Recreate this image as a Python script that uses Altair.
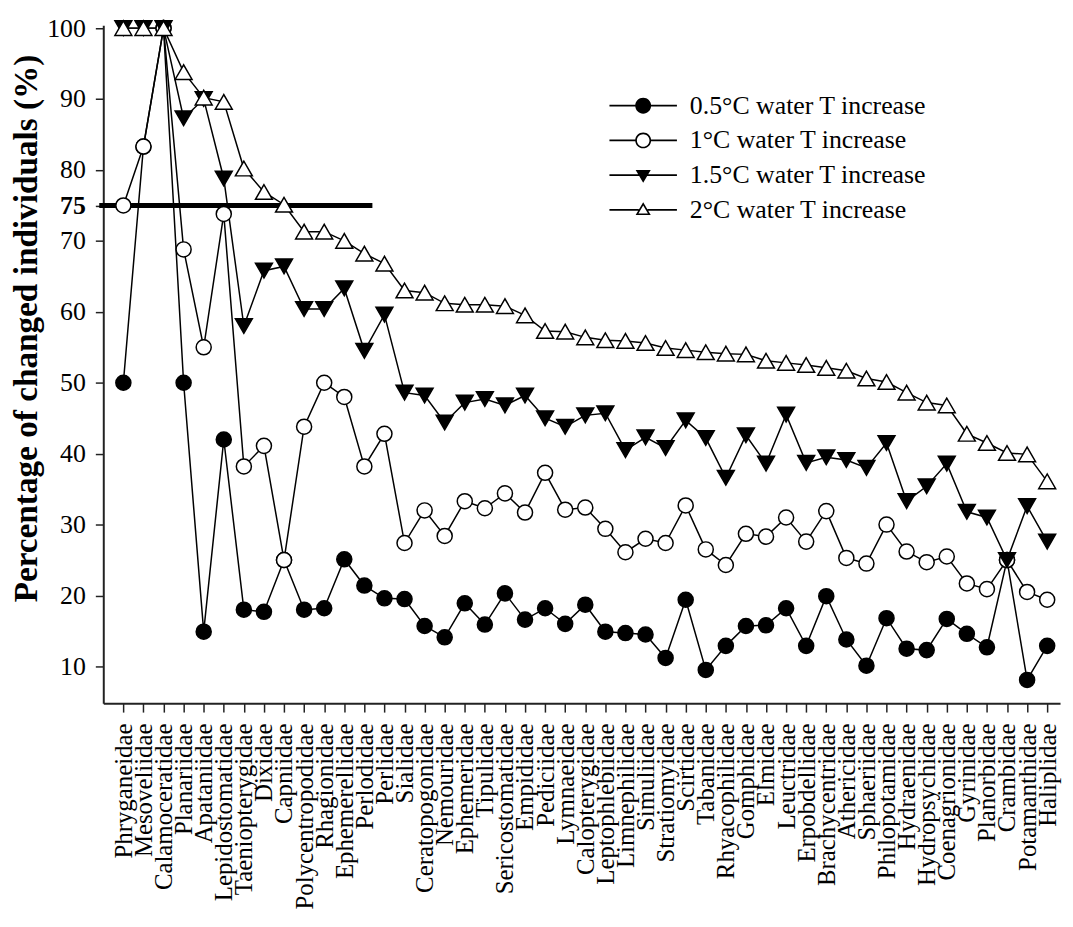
import altair as alt
import pandas as pd

families = [
    "Phryganeidae", "Mesoveliidae", "Calamoceratidae", "Planariidae", "Apataniidae",
    "Lepidostomatidae", "Taeniopterygidae", "Dixidae", "Capniidae", "Polycentropodidae",
    "Rhagionidae", "Ephemerellidae", "Perlodidae", "Perlidae", "Sialidae",
    "Ceratopogonidae", "Nemouridae", "Ephemeridae", "Tipulidae", "Sericostomatidae",
    "Empididae", "Pediciidae", "Lymnaeidae", "Calopterygidae", "Leptophlebiidae",
    "Limnephilidae", "Simuliidae", "Stratiomyidae", "Scirtidae", "Tabanidae",
    "Rhyacophilidae", "Gomphidae", "Elmidae", "Leuctridae", "Erpobdellidae",
    "Brachycentridae", "Athericidae", "Sphaeriidae", "Philopotamidae", "Hydraenidae",
    "Hydropsychidae", "Coenagrionidae", "Gyrinidae", "Planorbidae", "Crambidae",
    "Potamanthidae", "Haliplidae",
]

s05 = [50, 83.3, 100, 50, 14.9, 42.0, 18.0, 17.7, 25, 18.0,
       18.2, 25.1, 21.4, 19.6, 19.5, 15.7, 14.1, 18.9, 15.9, 20.3,
       16.6, 18.2, 16.0, 18.7, 14.9, 14.7, 14.5, 11.2, 19.4, 9.5,
       12.9, 15.7, 15.8, 18.2, 12.9, 19.9, 13.8, 10.1, 16.8, 12.5,
       12.3, 16.7, 14.6, 12.7, 25, 8.1, 12.9]

s1 = [75, 83.3, 100, 68.8, 55, 73.8, 38.2, 41.1, 25, 43.8,
      50, 48, 38.2, 42.8, 27.4, 32.0, 28.4, 33.3, 32.3, 34.4,
      31.7, 37.3, 32.1, 32.4, 29.4, 26.1, 28.0, 27.4, 32.7, 26.5,
      24.3, 28.7, 28.3, 31.0, 27.6, 31.9, 25.3, 24.5, 30.0, 26.2,
      24.7, 25.5, 21.7, 20.9, 25, 20.5, 19.4]

s15 = [100, 100, 100, 87.3, 90, 78.8, 58, 65.8, 66.4, 60.4,
       60.4, 63.3, 54.5, 59.6, 48.6, 48.2, 44.4, 47.2, 47.7, 46.8,
       48.2, 45.0, 43.8, 45.4, 45.7, 40.5, 42.3, 40.8, 44.7, 42.2,
       36.6, 42.6, 38.6, 45.5, 38.7, 39.5, 39.1, 38.0, 41.5, 33.3,
       35.4, 38.6, 31.8, 31.0, 25, 32.6, 27.6]

s2 = [100, 100, 100, 93.8, 90.2, 89.6, 80.2, 76.9, 75.1, 71.3,
      71.3, 70.0, 68.2, 66.8, 63.0, 62.7, 61.2, 61.0, 61.0, 60.8,
      59.5, 57.3, 57.2, 56.4, 56.0, 55.9, 55.6, 54.9, 54.6, 54.3,
      54.1, 54.0, 53.1, 52.8, 52.5, 52.1, 51.7, 50.6, 50.1, 48.6,
      47.2, 46.8, 42.8, 41.5, 40.1, 39.9, 36.1]

series_names = [
    "0.5°C water T increase",
    "1°C water T increase",
    "1.5°C water T increase",
    "2°C water T increase",
]
series_shapes = ["circle", "circle", "triangle-down", "triangle-up"]
series_fills = ["black", "white", "black", "white"]
series_sizes = [230, 230, 290, 290]

threshold_value = [75]
threshold_from = [-0.2]
threshold_to = [13.4]

y_ticks = [10, 20, 30, 40, 50, 60, 70, 75, 80, 90, 100]

rows = []
for si, (name, vals) in enumerate(zip(series_names, [s05, s1, s15, s2])):
    for i, (fam, v) in enumerate(zip(families, vals)):
        rows.append({"idx": i + 1, "family": fam, "series": name, "sorder": si, "value": v})
df = pd.DataFrame(rows)

thr_df = pd.DataFrame({"idx": threshold_from, "idx2": threshold_to, "value": threshold_value})

FONT = "Liberation Serif"

x_scale = alt.Scale(domain=[0, 47.64], nice=False, zero=False)
y_scale = alt.Scale(domain=[4.82, 100.4], nice=False, zero=False)

label_expr = "[" + ",".join("'" + f + "'" for f in families) + "][datum.value - 1]"

x_axis = alt.Axis(
    values=list(range(1, len(families) + 1)), labelExpr=label_expr, labelAngle=-90,
    labelFont=FONT, labelFontSize=25, labelColor="black", labelPadding=11,
    labelOverlap=False, labelFlush=False, labelBound=False, labelSeparation=0,
    labelLimit=0,
    tickSize=9, tickColor="#222", tickWidth=1.5,
    domainColor="#222", domainWidth=2, grid=False, title=None,
)

y_axis = alt.Axis(
    values=y_ticks, labelFont=FONT, labelFontSize=26, labelColor="black",
    labelFontWeight={"condition": {"test": "datum.value == 75", "value": "bold"}, "value": "normal"},
    labelPadding=10, labelOverlap=False, labelFlush=False,
    tickSize=8, tickColor="#222", tickWidth=1.5,
    domainColor="#222", domainWidth=2, grid=False,
    title="Percentage of changed individuals (%)", titleFont=FONT, titleFontSize=33.5,
    titleFontWeight="bold", titleColor="black", titleAngle=270, titleLimit=0,
    titleX=-77, titleY=305, titleAlign="center", titleBaseline="middle",
)

X = alt.X("idx:Q", scale=x_scale, axis=x_axis)
Y = alt.Y("value:Q", scale=y_scale, axis=y_axis)

base = alt.Chart(df)

lines = base.mark_line(color="black", strokeWidth=1.5).encode(
    x=X, y=Y, detail="series:N", order="idx:Q"
)

thr = alt.Chart(thr_df).mark_rule(color="black", strokeWidth=5).encode(
    x=X, x2="idx2:Q", y=Y,
)

point_layers = []
for si in range(len(series_names)):
    point_layers.append(
        base.transform_filter(f"datum.sorder == {si}").mark_point(
            shape=series_shapes[si], filled=True, fill=series_fills[si],
            stroke="black", strokeWidth=1.5, size=series_sizes[si], opacity=1,
        ).encode(x=X, y=Y)
    )

# legend symbols drawn as filled outlines: marker with a line segment each side
seg_l = "M-4.25,-0.11H{e}V0.11H-4.25Z"
seg_r = "M{e},-0.11H4.25V0.11H{e}Z"
full_circle = ("M-1,0A1,1 0 1,1 1,0A1,1 0 1,1 -1,0Z"
               + seg_l.format(e=-0.9) + seg_r.format(e=0.9))
ring_circle = ("M-1,0A1,1 0 1,1 1,0A1,1 0 1,1 -1,0Z"
               "M-0.79,0A0.79,0.79 0 1,0 0.79,0A0.79,0.79 0 1,0 -0.79,0Z"
               + seg_l.format(e=-0.98) + seg_r.format(e=0.98))
tri_down = ("M-0.95,-0.65L0.95,-0.65L0,0.95Z"
            + seg_l.format(e=-0.4) + seg_r.format(e=0.4))
tri_up = ("M0,-0.95L0.95,0.65L-0.95,0.65Z"
          "M0,-0.56L-0.6,0.45L0.6,0.45Z"
          + seg_l.format(e=-0.56) + seg_r.format(e=0.56))

legend_layer = base.transform_filter("false").mark_point(
    filled=True, fill="black", strokeWidth=0, opacity=1
).encode(
    x=X, y=Y,
    shape=alt.Shape(
        "series:N",
        scale=alt.Scale(domain=series_names, range=[full_circle, ring_circle, tri_down, tri_up]),
        legend=alt.Legend(
            title=None, orient="none", legendX=531, legendY=68,
            labelFont=FONT, labelFontSize=26, labelColor="black", labelLimit=0,
            labelOffset=34, rowPadding=9, symbolSize=256,
            symbolFillColor="black", symbolStrokeWidth=0, symbolOpacity=1,
            padding=0,
        ),
    ),
)

chart = alt.layer(lines, thr, *point_layers, legend_layer).properties(
    width=964, height=683,
    autosize=alt.AutoSizeParams(type="none"),
    padding={"left": 96, "top": 14, "right": 5, "bottom": 208},
).configure(background="white").configure_view(stroke=None).configure_axis(labelOverlap=False)

chart.save("out.html", embed_options={"renderer": "svg", "actions": False})
